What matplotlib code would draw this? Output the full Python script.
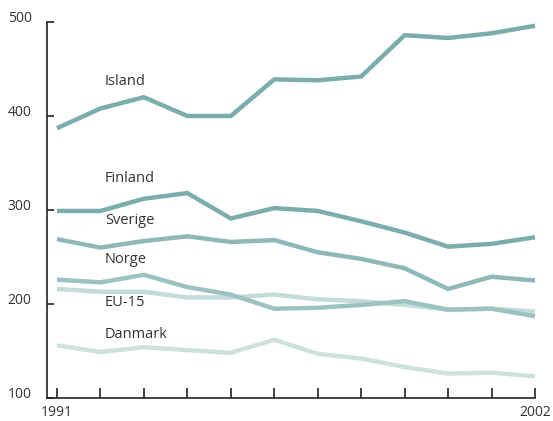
import matplotlib
matplotlib.use("Agg")
import matplotlib.pyplot as plt
from matplotlib.transforms import ScaledTranslation

years = list(range(1991, 2003))
island = [387, 408, 420, 400, 400, 439, 438, 442, 486, 483, 488, 496]
finland = [299, 299, 312, 318, 291, 302, 299, 288, 276, 261, 264, 271]
sverige = [269, 260, 267, 272, 266, 268, 255, 248, 238, 216, 229, 225]
norge = [226, 223, 231, 218, 210, 195, 196, 199, 203, 194, 195, 187]
eu15 = [216, 213, 213, 207, 207, 210, 205, 203, 199, 194, 195, 192]
danmark = [156, 149, 154, 151, 148, 162, 147, 142, 133, 126, 127, 123]

series = [
    ("Island", island, "#7aadac", 437),
    ("Finland", finland, "#7aadac", 334),
    ("Sverige", sverige, "#8fb9b8", 289),
    ("Norge", norge, "#9cc2c1", 247),
    ("EU-15", eu15, "#c4dcda", 202),
    ("Danmark", danmark, "#cde2df", 168),
]
y_ticks = [100, 200, 300, 400, 500]
x_labels = {1991: "1991", 2002: "2002"}

plt.rcParams['font.family'] = ['Open Sans', 'DejaVu Sans']
fig = plt.figure(figsize=(5.53, 4.21), dpi=100)
ax = fig.add_axes([47/553, 1-398/421, (535-47)/553, (398-22)/421])

order = ["Danmark", "EU-15", "Norge", "Sverige", "Finland", "Island"]
for name, vals, col, ly in sorted(series, key=lambda s: order.index(s[0])):
    ax.plot(years, vals, color=col, lw=3.2, solid_joinstyle='miter', solid_capstyle='butt', clip_on=False)
for name, vals, col, ly in series:
    ax.text(1992.1, ly, name, fontsize=10.5, color="#333333", va='center', ha='left')

x0 = 1991 - 10/43.45
ax.set_xlim(x0, 2002)
ax.set_ylim(100, 500)
for s in ['top', 'right']:
    ax.spines[s].set_visible(False)
for s in ['left', 'bottom']:
    ax.spines[s].set_color('#222222')
    ax.spines[s].set_linewidth(1.2)

ax.set_yticks(y_ticks)
ax.set_yticklabels([str(t) for t in y_ticks])
ax.set_xticks(years)
ax.set_xticklabels([x_labels.get(y, "") for y in years])
ax.tick_params(axis='y', direction='in', length=5, width=1.2, color='#222222',
               labelsize=10, labelcolor='#333333', pad=11)
ax.tick_params(axis='x', direction='in', length=7, width=1.2, color='#222222',
               labelsize=10, labelcolor='#333333', pad=5)
off = ScaledTranslation(0, 3/100, fig.dpi_scale_trans)
for lab in ax.get_yticklabels():
    lab.set_verticalalignment('center')
    lab.set_transform(lab.get_transform() + off)

fig.savefig("out.png", dpi=100)
